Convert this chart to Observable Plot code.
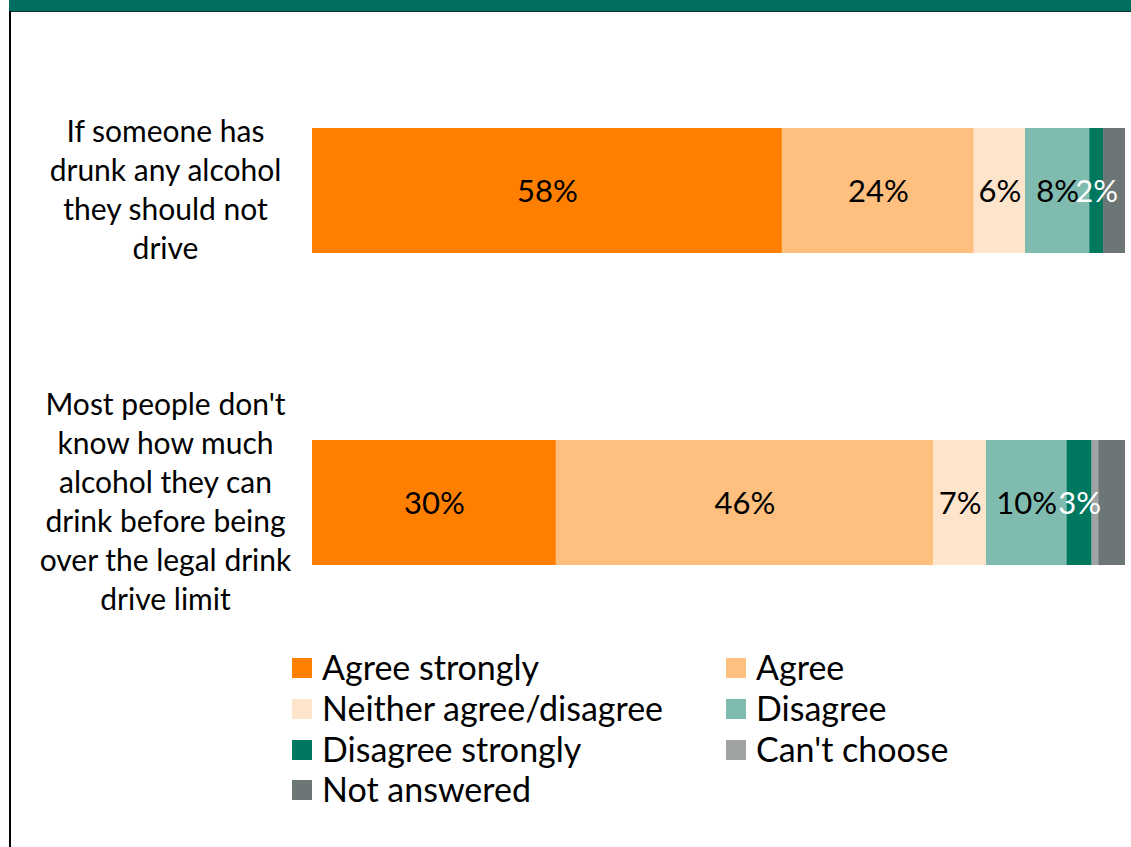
<!DOCTYPE html>
<html><head><meta charset="utf-8">
<script src="https://cdn.jsdelivr.net/npm/d3@7"></script>
<script src="https://cdn.jsdelivr.net/npm/@observablehq/plot@0.6"></script>
<style>
body{margin:0;background:#fff;font-family:Lato,sans-serif;}
#wrap{position:relative;width:1131px;height:847px;overflow:hidden;background:#fff;}
#band{position:absolute;left:9px;top:0;width:1122px;height:11px;background:#006F5F;border-bottom:1.5px solid #10302a;z-index:3;}
#leftline{position:absolute;left:9px;top:11px;width:1.5px;height:836px;background:#000;z-index:3;}
#chart{position:absolute;left:0;top:0;}
.lg{position:absolute;font-family:Lato,sans-serif;font-size:34px;color:#000;white-space:nowrap;line-height:1;}
.sw{position:absolute;width:20px;height:20px;}
</style></head><body><div id="wrap"><div id="band"></div><div id="leftline"></div><div id="chart"></div></div>
<script>
const questions = [
  "If someone has\ndrunk any alcohol\nthey should not\ndrive",
  "Most people don't\nknow how much\nalcohol they can\ndrink before being\nover the legal drink\ndrive limit"
];
const categories = ["Agree strongly", "Agree", "Neither agree/disagree", "Disagree", "Disagree strongly", "Can't choose", "Not answered"];
const colors = ["#FF8000", "#FFBF7F", "#FFE4CC", "#80BBB0", "#00775F", "#A0A3A3", "#6D7677"];
const q1Values = [57.8, 23.6, 6.3, 7.9, 1.7, 0, 2.7];
const q2Values = [30.0, 46.4, 6.5, 9.9, 3.1, 0.8, 3.3];
const labeledCategories = ["Agree strongly", "Agree", "Neither agree/disagree", "Disagree", "Disagree strongly"];
const whiteLabelCategories = ["Disagree strongly"];

const rows = [];
[q1Values, q2Values].forEach((vals, qi) => {
  vals.forEach((v, ci) => rows.push({question: questions[qi], category: categories[ci], value: v}));
});

const fmt = d => Math.round(d.value) + "%";

const chart = Plot.plot({
  width: 1131, height: 640,
  marginLeft: 312, marginRight: 6, marginTop: 65.5, marginBottom: 12,
  x: {domain: [0, 100], axis: null},
  y: {domain: questions, axis: null, paddingInner: 0.6, paddingOuter: 0.2},
  color: {domain: categories, range: colors},
  style: {background: "transparent", fontFamily: "Lato, sans-serif"},
  marks: [
    Plot.barX(rows, Plot.stackX({x: "value", y: "question", fill: "category"})),
    Plot.text(rows, Plot.stackX({
      x: "value", y: "question", z: "category",
      text: d => labeledCategories.includes(d.category) && !whiteLabelCategories.includes(d.category) ? fmt(d) : null,
      fill: "black", fontSize: 31, dy: 1
    })),
    Plot.text(rows, Plot.stackX({
      x: "value", y: "question", z: "category",
      text: d => whiteLabelCategories.includes(d.category) ? fmt(d) : null,
      fill: "white", fontSize: 31, dy: 1
    })),
    Plot.text(questions, {
      y: d => d, text: d => d, frameAnchor: "left", dx: -147, dy: -3,
      textAnchor: "middle", lineAnchor: "middle", lineHeight: 1.3,
      fontSize: 30, fill: "black"
    })
  ]
});
document.getElementById("chart").appendChild(chart);

// Legend (two columns)
const wrap = document.getElementById("wrap");
const colX = [292, 726];
const rowY = [668, 709, 750, 790];
categories.forEach((c, i) => {
  const col = i % 2, row = Math.floor(i / 2);
  const sw = document.createElement("div");
  sw.className = "sw";
  sw.style.left = colX[col] + "px";
  sw.style.top = (rowY[row] - 10) + "px";
  sw.style.background = colors[i];
  wrap.appendChild(sw);
  const t = document.createElement("div");
  t.className = "lg";
  t.textContent = c;
  t.style.left = (colX[col] + 30) + "px";
  t.style.top = (rowY[row] - 18) + "px";
  wrap.appendChild(t);
});
</script></body></html>
